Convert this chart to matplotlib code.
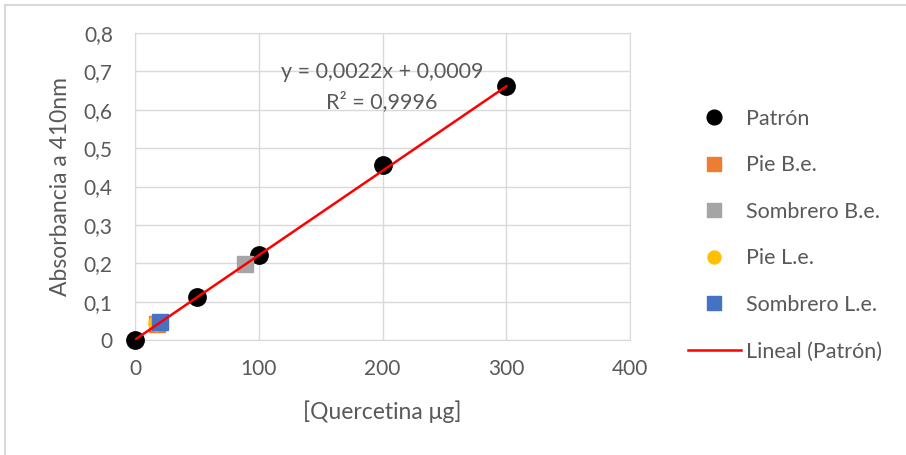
import matplotlib.pyplot as plt
from matplotlib.lines import Line2D
from matplotlib.ticker import FuncFormatter

# data
patron_x = [0, 50, 100, 200, 300]
patron_y = [0.0, 0.111, 0.221, 0.455, 0.661]
pie_be_x, pie_be_y = [18], [0.041]
sombrero_be_x, sombrero_be_y = [89], [0.198]
pie_le_x, pie_le_y = [17], [0.043]
sombrero_le_x, sombrero_le_y = [20], [0.047]
trend_x = [0, 300]
slope, intercept = 0.0022, 0.0009
eq_lines = ["y = 0,0022x + 0,0009", "R² = 0,9996"]

plt.rcParams["font.family"] = ["Lato", "DejaVu Sans"]
txt = "#595959"
grid_c = "#d9d9d9"

fig = plt.figure(figsize=(9.06, 4.55), dpi=100)
ax = fig.add_axes([135 / 906, 1 - 340 / 455, 495 / 906, 307 / 455])

ax.plot(patron_x, patron_y, "o", color="black", ms=12.5, label="Patrón", zorder=3, clip_on=False)
ax.plot(pie_be_x, pie_be_y, "s", color="#ed7d31", ms=12, label="Pie B.e.", zorder=3)
ax.plot(sombrero_be_x, sombrero_be_y, "s", color="#a5a5a5", ms=12, label="Sombrero B.e.", zorder=3)
ax.plot(pie_le_x, pie_le_y, "o", color="#ffc000", ms=11, label="Pie L.e.", zorder=3)
ax.plot(sombrero_le_x, sombrero_le_y, "s", color="#4472c4", ms=12, label="Sombrero L.e.", zorder=3)
ax.plot(trend_x, [slope * x + intercept for x in trend_x], color="red", lw=1.8,
        label="Lineal (Patrón)", zorder=4)

ax.set_xlim(0, 400)
ax.set_ylim(0, 0.8)
ax.set_xticks([0, 100, 200, 300, 400])
ax.set_yticks([i / 10 for i in range(9)])
ax.yaxis.set_major_formatter(FuncFormatter(lambda v, p: f"{v:.1f}".replace(".", ",") if v else "0"))
ax.grid(True, color=grid_c, lw=1)
ax.set_axisbelow(True)
for s in ax.spines.values():
    s.set_color(grid_c)
ax.tick_params(length=0, labelsize=15, colors=txt)
ax.tick_params(axis="y", pad=16)
ax.tick_params(axis="x", pad=14)

ax.set_xlabel("[Quercetina μg]", fontsize=16.5, color=txt, labelpad=15)
ax.set_ylabel("Absorbancia a 410nm", fontsize=16.5, color=txt, labelpad=9)

ax.text(199.5, 0.698, eq_lines[0], ha="center", va="center", fontsize=15.5, color=txt)
ax.text(199.5, 0.620, eq_lines[1], ha="center", va="center", fontsize=15.5, color=txt)

leg = ax.legend(loc="upper left", bbox_to_anchor=(688 / 906, 1 - 109 / 455),
                bbox_transform=fig.transFigure, frameon=False, fontsize=15.5,
                labelcolor=txt, labelspacing=1.23, handlelength=2.45, handletextpad=0.25,
                borderpad=0, borderaxespad=0, markerscale=0.85)

# outer chart border (top and left visible)
fig.add_artist(Line2D([5 / 906, 5 / 906], [0, 1 - 5 / 455], color=grid_c, lw=1.5))
fig.add_artist(Line2D([5 / 906, 1], [1 - 5 / 455, 1 - 5 / 455], color=grid_c, lw=1.5))

fig.savefig("out.png", dpi=100)
